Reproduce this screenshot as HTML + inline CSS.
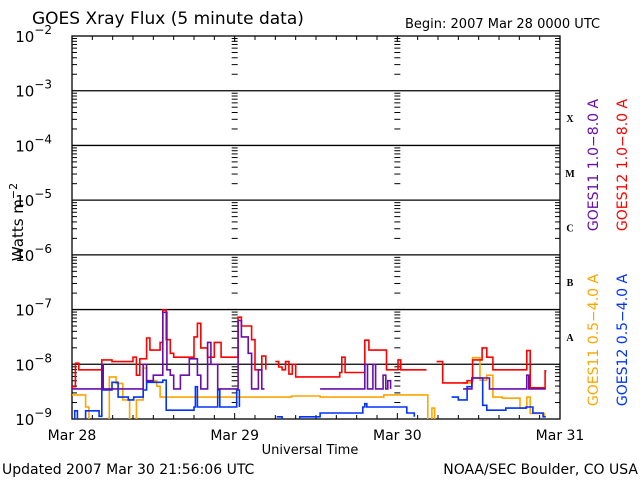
<!DOCTYPE html>
<html><head><meta charset="utf-8"><style>
body{margin:0;background:#fff;}
svg{display:block;font-family:"DejaVu Sans","Liberation Sans",sans-serif;}
</style></head><body>
<svg id="c" width="640" height="480" viewBox="0 0 640 480">
<text x="32" y="24" font-size="17">GOES Xray Flux (5 minute data)</text>
<text x="405" y="28" font-size="13">Begin:  2007 Mar 28 0000 UTC</text>
<text transform="translate(23,222) rotate(-90)" font-size="15" text-anchor="middle">Watts m<tspan dy="-6" font-size="11">−2</tspan></text>
<text x="310" y="454" font-size="13" text-anchor="middle">Universal Time</text>
<text x="2" y="474" font-size="14">Updated 2007 Mar 30 21:56:06 UTC</text>
<text x="638" y="474" font-size="14" text-anchor="end">NOAA/SEC Boulder, CO USA</text>
<g font-size="14">
<text transform="translate(598,165) rotate(-90)" text-anchor="middle" fill="#6a0dad">GOES11 1.0−8.0 A</text>
<text transform="translate(627,165) rotate(-90)" text-anchor="middle" fill="#ff0000">GOES12 1.0−8.0 A</text>
<text transform="translate(598,340) rotate(-90)" text-anchor="middle" fill="#ffa500">GOES11 0.5−4.0 A</text>
<text transform="translate(627,340) rotate(-90)" text-anchor="middle" fill="#0033ff">GOES12 0.5−4.0 A</text>
</g>
<g id="axes"></g>
<g id="series"></g>
</svg>
<script>
const dayLabels=["Mar 28","Mar 29","Mar 30","Mar 31"];
const decades=[-9,-8,-7,-6,-5,-4,-3,-2];
const classLabels=["A","B","C","M","X"];
const redT=[0,0.5,1,1.5,4.4,5.9,9,9.5,10,11,11.5,13,13.4,13.9,14.5,15,17.3,18,18.5,19,20,21,21.5,22,24.5,25,26.5,27,28,28.6,29,30,30.5,31,31.5,32,32.5,33,35,36.6,39.5,39.8,40.3,43.2,43.8,46.4,48.1,48.5,52.3];
const redV=[-8.41,-7.98,-8.1,-8.1,-7.92,-7.95,-7.87,-8.2,-7.9,-7.52,-7.74,-7.6,-7.01,-7.55,-7.8,-7.87,-7.87,-7.5,-7.25,-7.7,-7.87,-7.6,-7.6,-7.87,-7.14,-7.3,-7.55,-8.1,-7.85,-8.1,null,-7.95,-8.05,-8.1,-7.95,-8.18,-8.0,-8.23,-8.23,-8.23,-8.15,-7.87,-8.15,-7.56,-7.74,-8.1,-7.92,-8.1,-8.1];
const redT2=[53.8,54.7,58.3,59.1,60.5,61.2,62.1,65.6,67.1,67.6,69.5,69.8,70];
const redV2=[-7.95,-8.34,-8.3,-7.92,-7.7,-7.87,-8.1,-8.1,-7.75,-8.43,-8.43,-8.12,-8.12];
const purT=[0,4.4,4.6,10.5,11,12,13.4,14,14.5,15,16,17.3,18,18.5,19,20,20.5,21.5,24.5,25,26,26.5,27.5,28,28.4,32.6,36.6,43.2,43.6,44.4,44.8,45.9,46.3,46.6,47,56.5,57.7,59,61.6,62,67.1,67.4,69.9];
const purV=[-8.45,-8.0,-8.45,-8.0,-8.3,-8.2,-7.05,-8.1,-8.2,-8.45,-8.2,-7.9,-7.9,-8.2,-8.45,-7.6,-8.0,-8.45,-7.2,-7.5,-7.8,-8.45,-8.1,-8.45,-8.45,null,-8.45,-8.0,-8.45,-8.0,-8.45,-8.2,-8.45,-8.3,-8.45,null,-8.45,-8.25,-8.45,-8.45,-8.2,-8.45,-8.45];
const oraT=[0,2,2.5,5.5,6.5,7.5,8.5,9.5,10.5,11,12.5,13,13.6,30,32.4,36.6,46,51.8,52.5,53.1,53.5,54.5,57.7,59.1,60.2,61.2,62.1,63.5,66.1,67.1,67.6,69.7];
const oraV=[-8.56,-8.78,-9.1,-8.23,-8.35,-8.65,-9.1,-8.65,-8.07,-8.3,-8.4,-8.6,-8.6,-8.6,-8.58,-8.6,-8.56,-8.56,-9.1,-8.8,-9.1,null,-8.34,-7.88,-8.29,-8.2,-8.6,-8.62,-8.8,-8.6,-8.9,-8.95];
const bluT=[0,0.4,0.8,2,4,4.4,5.9,6.8,8.3,9.1,10.5,11,13.4,13.9,18,18.2,18.5,21.5,21.8,24.3,24.7,28.5,30.2,31,33.6,36.6,42.9,43.2,43.5,48.4,49.4,50.5,52.3,56,57,58.3,59,60.6,61.2,64,67,68,69.5,69.9];
const bluV=[-9.1,-8.85,-9.1,-8.85,-8.95,-8.47,-8.33,-8.6,-8.65,-8.6,-8.47,-8.33,-8.29,-8.84,-8.78,-8.41,-8.78,-8.47,-8.78,-8.47,-8.78,null,-8.96,-9.1,-8.96,-8.89,-8.78,-8.72,-8.78,-8.78,-8.89,-8.96,null,-8.6,-8.65,-8.41,-8.25,-8.75,-8.84,-8.8,-8.78,-8.89,-8.96,-8.96];
const NS="http://www.w3.org/2000/svg";
const L=72,R=560,T=36,B=419;
const X=h=>L+h*(R-L)/72;
const Y=v=>B-(v+9)*(B-T)/7;
const svg=document.getElementById('c'),ax=document.getElementById('axes'),se=document.getElementById('series');
function mk(tag,attrs,parent){const e=document.createElementNS(NS,tag);for(const k in attrs)e.setAttribute(k,attrs[k]);parent.appendChild(e);return e;}
const defs=mk('defs',{},svg);const cp=mk('clipPath',{id:'clip'},defs);mk('rect',{x:L,y:T,width:R-L,height:B-T},cp);
decades.forEach(d=>{
  if(d>-9&&d<-2){const ln=mk('line',{x1:L,x2:R,y1:Y(d),y2:Y(d),stroke:'#000','stroke-width':1.3},ax);
  
  }
  const t=mk('text',{x:52,y:Y(d)+6,'font-size':15,'text-anchor':'end'},ax);t.textContent='10';
  
  
  const s=mk('tspan',{dy:-8,'font-size':12},t);s.textContent=String(d).replace('-','−');
  for(let m=2;m<=9&&d<-2;m++){const yy=Y(d+Math.log10(m));
    [L,X(24),X(48),R].forEach((xx,i)=>{const w=(i==0||i==3)?5:3;
      const tk=mk('line',{x1:i==3?xx-w:xx,x2:i==0?xx+w:(i==3?xx:xx+w),y1:yy,y2:yy,stroke:'#000'},ax);
      if(i==1||i==2)tk.setAttribute('x1',xx-w);
      
      });}
});
const box=mk('rect',{x:L,y:T,width:R-L,height:B-T,fill:'none',stroke:'#000','stroke-width':1.3},ax);


for(let h=3;h<72;h+=3){const big=h%24==0;
  [[T,T+(big?6:4)],[B-(big?6:4),B]].forEach(p=>{const tk=mk('line',{x1:X(h),x2:X(h),y1:p[0],y2:p[1],stroke:'#000'},ax);
  
  });}
dayLabels.forEach((lab,i)=>{const t=mk('text',{x:X(i*24),y:440,'font-size':14,'text-anchor':'middle'},ax);t.textContent=lab;
  
  });
classLabels.forEach((c,i)=>{const t=mk('text',{x:570,y:Y(-7.5+i)+4,'font-size':10,'font-weight':'bold','font-family':'Liberation Serif, serif','text-anchor':'middle'},ax);t.textContent=c;
  
  });
function stepPath(ts,vs){let d='',pen=false;
  for(let i=0;i<ts.length;i++){const v=vs[i];if(v===null){pen=false;continue;}
    const x=X(ts[i]),y=Y(v);
    if(!pen){d+='M'+x.toFixed(1)+' '+y.toFixed(1);pen=true;}
    else d+='H'+x.toFixed(1)+'V'+y.toFixed(1);}
  return d;}
function draw(ts,vs,col,name){const p=mk('path',{d:stepPath(ts,vs),fill:'none',stroke:col,'stroke-width':1.6,'clip-path':'url(#clip)'},se);
  
  }
draw(oraT,oraV,'#ffa500','series-goes11-short');
draw(bluT,bluV,'#0033ff','series-goes12-short');
draw(redT,redV,'#ff0000','series-goes12-long');
draw(redT2,redV2,'#ff0000','series-goes12-long-2');
draw(purT,purV,'#6a0dad','series-goes11-long');
</script>
</body></html>
